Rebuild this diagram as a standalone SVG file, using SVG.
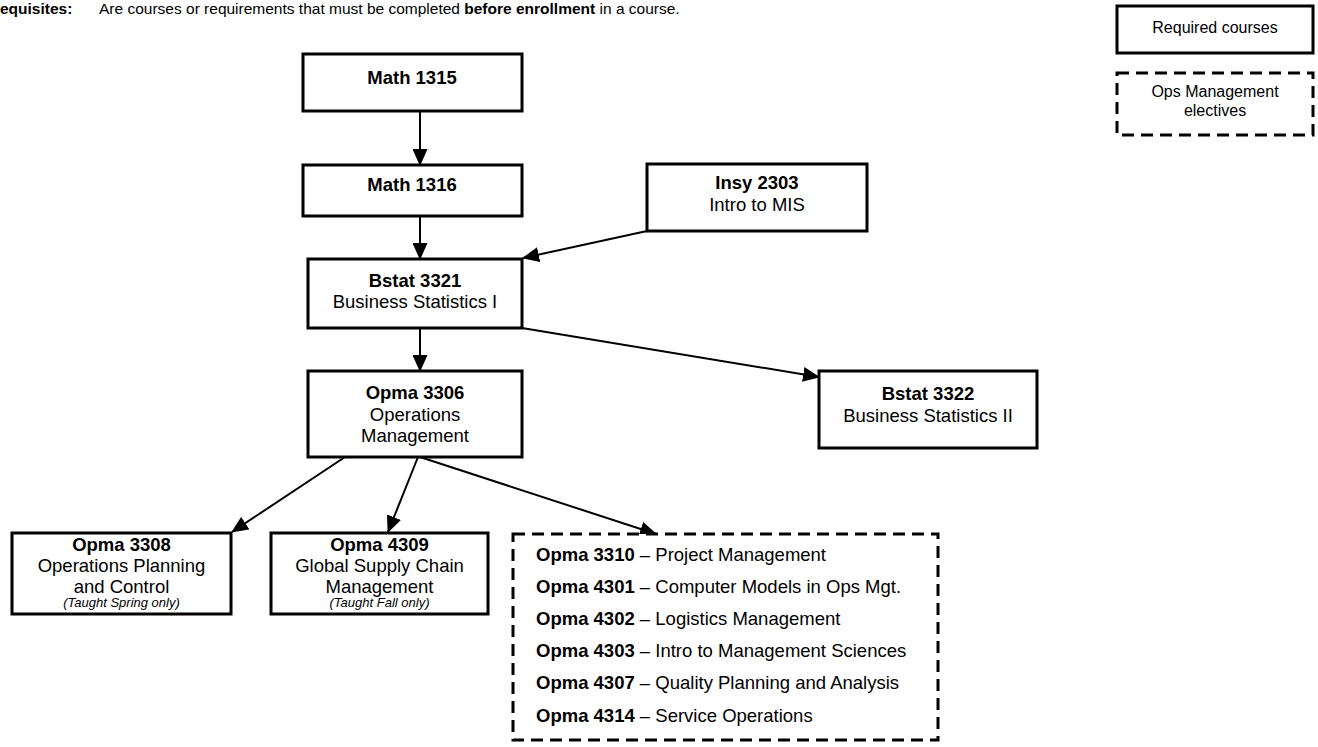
<svg xmlns="http://www.w3.org/2000/svg" width="1318" height="747" viewBox="0 0 1318 747">
<style>
text{font-family:"Liberation Sans",Arial,sans-serif;fill:#000;}
.t{font-size:18.5px;text-anchor:middle;}
.b{font-weight:bold;}
.i{font-style:italic;font-size:13px;}
.box{fill:#fff;stroke:#000;stroke-width:3;}
.dash{fill:#fff;stroke:#000;stroke-width:3;stroke-dasharray:12 7;}
.c{stroke:#000;stroke-width:2;fill:none;marker-end:url(#ah);}
.el{font-size:18.5px;}
.lg{font-size:16px;text-anchor:middle;}
</style>
<defs>
<marker id="ah" markerUnits="userSpaceOnUse" markerWidth="17" markerHeight="15" refX="16" refY="7.5" orient="auto">
<path d="M0,0 L17,7.5 L0,15 Z" fill="#000"/>
</marker>
</defs>
<rect width="1318" height="747" fill="#fff"/>
<text x="0" y="14" style="font-size:15.5px"><tspan class="b">equisites:</tspan><tspan x="99">Are courses or requirements that must be completed </tspan><tspan class="b">before enrollment</tspan><tspan> in a course.</tspan></text>

<g id="connectors">
<line class="c" x1="420" y1="111" x2="420" y2="165"/>
<line class="c" x1="420" y1="216" x2="420" y2="259"/>
<line class="c" x1="647" y1="231" x2="523" y2="258"/>
<line class="c" x1="420" y1="328" x2="420" y2="371"/>
<line class="c" x1="522" y1="328" x2="819" y2="377"/>
<line class="c" x1="345" y1="457" x2="232" y2="532"/>
<line class="c" x1="418" y1="457" x2="388" y2="532"/>
<line class="c" x1="420" y1="457" x2="656" y2="534"/>
</g>

<g id="math1315">
<rect class="box" x="303" y="54" width="219" height="57"/>
<text class="t b" x="412" y="84">Math 1315</text>
</g>
<g id="math1316">
<rect class="box" x="303" y="165" width="219" height="51"/>
<text class="t b" x="412" y="191">Math 1316</text>
</g>
<g id="insy2303">
<rect class="box" x="647" y="164" width="220" height="67"/>
<text class="t b" x="757" y="189">Insy 2303</text>
<text class="t" x="757" y="211">Intro to MIS</text>
</g>
<g id="bstat3321">
<rect class="box" x="308" y="259" width="214" height="69"/>
<text class="t b" x="415" y="287">Bstat 3321</text>
<text class="t" x="415" y="308">Business Statistics I</text>
</g>
<g id="opma3306">
<rect class="box" x="308" y="371" width="214" height="86"/>
<text class="t b" x="415" y="399">Opma 3306</text>
<text class="t" x="415" y="421">Operations</text>
<text class="t" x="415" y="442">Management</text>
</g>
<g id="bstat3322">
<rect class="box" x="819" y="371" width="218" height="77"/>
<text class="t b" x="928" y="400">Bstat 3322</text>
<text class="t" x="928" y="422">Business Statistics II</text>
</g>
<g id="opma3308">
<rect class="box" x="12" y="533" width="219" height="81"/>
<text class="t b" x="121.5" y="551">Opma 3308</text>
<text class="t" x="121.5" y="572">Operations Planning</text>
<text class="t" x="121.5" y="593">and Control</text>
<text class="t i" x="121.5" y="607">(Taught Spring only)</text>
</g>
<g id="opma4309">
<rect class="box" x="271" y="533" width="217" height="81"/>
<text class="t b" x="379.5" y="551">Opma 4309</text>
<text class="t" x="379.5" y="572">Global Supply Chain</text>
<text class="t" x="379.5" y="593">Management</text>
<text class="t i" x="379.5" y="607">(Taught Fall only)</text>
</g>
<g id="electives">
<rect class="dash" x="513" y="534" width="425" height="206"/>
<text class="el" x="536" y="561"><tspan class="b">Opma 3310</tspan> – Project Management</text>
<text class="el" x="536" y="593"><tspan class="b">Opma 4301</tspan> – Computer Models in Ops Mgt.</text>
<text class="el" x="536" y="625"><tspan class="b">Opma 4302</tspan> – Logistics Management</text>
<text class="el" x="536" y="657"><tspan class="b">Opma 4303</tspan> – Intro to Management Sciences</text>
<text class="el" x="536" y="689"><tspan class="b">Opma 4307</tspan> – Quality Planning and Analysis</text>
<text class="el" x="536" y="722"><tspan class="b">Opma 4314</tspan> – Service Operations</text>
</g>
<g id="legend-required">
<rect class="box" x="1117" y="6" width="196" height="47"/>
<text class="lg" x="1215" y="33">Required courses</text>
</g>
<g id="legend-electives">
<rect class="dash" x="1117" y="73" width="196" height="62"/>
<text class="lg" x="1215" y="97">Ops Management</text>
<text class="lg" x="1215" y="116">electives</text>
</g>
</svg>
